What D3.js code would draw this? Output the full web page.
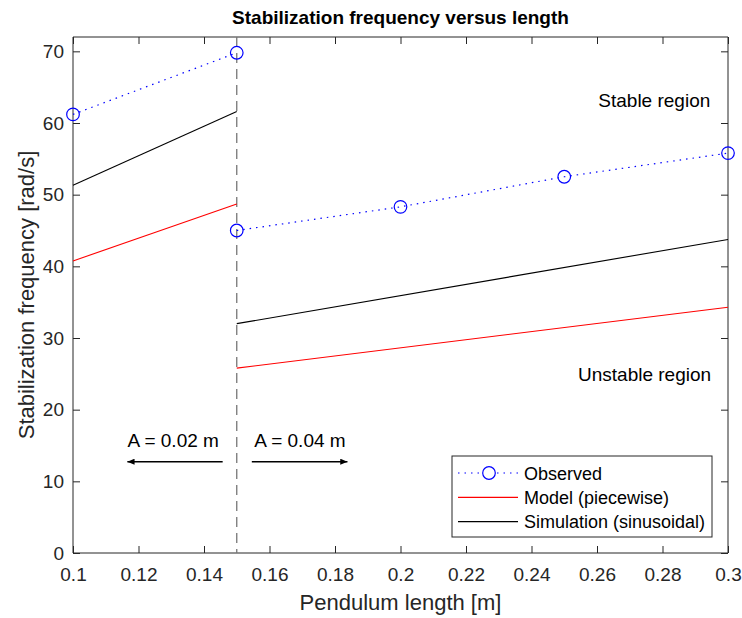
<!DOCTYPE html>
<html>
<head>
<meta charset="utf-8">
<script src="https://cdn.jsdelivr.net/npm/d3@7"></script>
<style>
  html, body { margin: 0; padding: 0; background: #fff; }
  svg { display: block; font-family: "Liberation Sans", Arial, Helvetica, sans-serif; }
</style>
</head>
<body>
<svg id="chart" width="742" height="618"></svg>
<script>
// Pendulum length [m] for each regime
const lengthsA002 = [0.10, 0.15];
const lengthsA004 = [0.15, 0.20, 0.25, 0.30];

// Observed stabilization frequency [rad/s]
const observedA002 = [61.2, 69.8];
const observedA004 = [45.0, 48.3, 52.5, 55.8];

// Model (piecewise) at segment end points
const modelLengthsA002 = [0.10, 0.15];
const modelA002 = [40.75, 48.7];
const modelLengthsA004 = [0.15, 0.30];
const modelA004 = [25.8, 34.3];

// Simulation (sinusoidal) at segment end points
const simLengthsA002 = [0.10, 0.15];
const simA002 = [51.3, 61.6];
const simLengthsA004 = [0.15, 0.30];
const simA004 = [32.0, 43.75];

// Axis ticks
const xTicks = [0.1, 0.12, 0.14, 0.16, 0.18, 0.2, 0.22, 0.24, 0.26, 0.28, 0.3];
const yTicks = [0, 10, 20, 30, 40, 50, 60, 70];
const boundaryLength = 0.15;

const svg = d3.select("#chart");
const margin = { left: 73, right: 14, top: 37, bottom: 65 };
const W = 742, H = 618;
const pw = W - margin.left - margin.right;
const ph = H - margin.top - margin.bottom;

const x = d3.scaleLinear().domain([0.1, 0.3]).range([margin.left, margin.left + pw]);
const y = d3.scaleLinear().domain([0, 72]).range([margin.top + ph, margin.top]);

const axisColor = "#262626";
const fmt = d => d3.format("~g")(d);

// Axes with inward ticks, MATLAB-style box
const tickLen = 7;
const gx = svg.append("g").attr("transform", `translate(0,${margin.top + ph})`)
  .call(d3.axisBottom(x).tickValues(xTicks).tickFormat(fmt).tickSize(-tickLen).tickPadding(15));
const gxTop = svg.append("g").attr("transform", `translate(0,${margin.top})`)
  .call(d3.axisTop(x).tickValues(xTicks).tickFormat("").tickSize(-tickLen));
const gy = svg.append("g").attr("transform", `translate(${margin.left},0)`)
  .call(d3.axisLeft(y).tickValues(yTicks).tickFormat(fmt).tickSize(-tickLen).tickPadding(9));
const gyRight = svg.append("g").attr("transform", `translate(${margin.left + pw},0)`)
  .call(d3.axisRight(y).tickValues(yTicks).tickFormat("").tickSize(-tickLen));

[gx, gxTop, gy, gyRight].forEach(g => {
  g.select(".domain").attr("stroke", axisColor).attr("stroke-width", 1);
  g.selectAll(".tick line").attr("stroke", axisColor).attr("stroke-width", 1);
  g.selectAll(".tick text").attr("fill", axisColor)
    .style("font-size", "19px").style("font-family", "Liberation Sans, Arial, sans-serif");
});
[gx, gxTop].forEach(g => g.select(".domain").attr("d", `M${margin.left},0H${margin.left + pw}`));
[gy, gyRight].forEach(g => g.select(".domain").attr("d", `M0,${margin.top + ph}V${margin.top}`));

// Regime boundary
svg.append("line")
  .attr("x1", x(boundaryLength)).attr("x2", x(boundaryLength))
  .attr("y1", y(72)).attr("y2", y(0))
  .attr("stroke", "#777").attr("stroke-width", 1.3)
  .attr("stroke-dasharray", "10,6");

const line = d3.line().x(d => x(d[0])).y(d => y(d[1]));
const zip = (a, b) => a.map((v, i) => [v, b[i]]);

// Model lines
[[modelLengthsA002, modelA002], [modelLengthsA004, modelA004]].forEach(([l, v]) => {
  svg.append("path").datum(zip(l, v)).attr("d", line)
    .attr("fill", "none").attr("stroke", "#ff0000").attr("stroke-width", 1.1);
});
// Simulation lines
[[simLengthsA002, simA002], [simLengthsA004, simA004]].forEach(([l, v]) => {
  svg.append("path").datum(zip(l, v)).attr("d", line)
    .attr("fill", "none").attr("stroke", "#000").attr("stroke-width", 1.1);
});
// Observed
[[lengthsA002, observedA002], [lengthsA004, observedA004]].forEach(([l, v]) => {
  const pts = zip(l, v);
  svg.append("path").datum(pts).attr("d", line)
    .attr("fill", "none").attr("stroke", "#0000ff").attr("stroke-width", 1.2)
    .attr("stroke-dasharray", "1.5,5");
  svg.selectAll(null).data(pts).enter().append("circle")
    .attr("cx", d => x(d[0])).attr("cy", d => y(d[1])).attr("r", 6.3)
    .attr("fill", "none").attr("stroke", "#0000ff").attr("stroke-width", 1.2);
});

// Region annotations
const annot = (tx, ty, text, anchor) => svg.append("text")
  .attr("x", tx).attr("y", ty).attr("text-anchor", anchor || "start")
  .attr("fill", "#000").style("font-size", "19px").text(text);
annot(x(0.2604), y(62.3), "Stable region");
annot(x(0.2542), y(24.0), "Unstable region");
annot(x(0.1306), y(14.8), "A = 0.02 m", "middle");
annot(x(0.1693), y(14.8), "A = 0.04 m", "middle");

// Arrows
const defs = svg.append("defs");
defs.append("marker").attr("id", "arrowhead").attr("viewBox", "0 0 12 10")
  .attr("refX", 12).attr("refY", 5).attr("markerWidth", 12).attr("markerHeight", 6)
  .attr("markerUnits", "userSpaceOnUse").attr("orient", "auto")
  .append("path").attr("d", "M0,0L12,5L0,10Z").attr("fill", "#000");
const arrow = (x1, x2, v) => svg.append("line")
  .attr("x1", x(x1)).attr("x2", x(x2)).attr("y1", y(v)).attr("y2", y(v))
  .attr("stroke", "#000").attr("stroke-width", 1.6).attr("marker-end", "url(#arrowhead)");
arrow(0.1457, 0.1166, 12.74);
arrow(0.1546, 0.1838, 12.74);

// Legend
const lg = svg.append("g");
const lgX = 452, lgY = 456, lgW = 260, lgH = 81;
lg.append("rect").attr("x", lgX).attr("y", lgY).attr("width", lgW).attr("height", lgH)
  .attr("fill", "#fff").attr("stroke", "#262626").attr("stroke-width", 1);
const items = [
  { label: "Observed", color: "#0000ff", dash: "1.5,5", marker: true },
  { label: "Model (piecewise)", color: "#ff0000", dash: null, marker: false },
  { label: "Simulation (sinusoidal)", color: "#000", dash: null, marker: false }
];
items.forEach((it, i) => {
  const cy = lgY + 17 + i * 24.3;
  lg.append("line").attr("x1", lgX + 6).attr("x2", lgX + 66).attr("y1", cy).attr("y2", cy)
    .attr("stroke", it.color).attr("stroke-width", 1.2)
    .attr("stroke-dasharray", it.dash);
  if (it.marker) {
    lg.append("circle").attr("cx", lgX + 37).attr("cy", cy).attr("r", 6.3)
      .attr("fill", "#fff").attr("stroke", it.color).attr("stroke-width", 1.2);
  }
  lg.append("text").attr("x", lgX + 72).attr("y", cy + 6.5)
    .attr("fill", "#000").style("font-size", "18px").text(it.label);
});

// Title and axis labels
svg.append("text").attr("x", margin.left + pw / 2).attr("y", 24)
  .attr("text-anchor", "middle").style("font-size", "19px").style("font-weight", "bold")
  .text("Stabilization frequency versus length");
svg.append("text").attr("x", margin.left + pw / 2).attr("y", 610)
  .attr("text-anchor", "middle").style("font-size", "22px").attr("fill", axisColor)
  .text("Pendulum length [m]");
svg.append("text").attr("transform", `translate(34,${margin.top + ph / 2}) rotate(-90)`)
  .attr("text-anchor", "middle").style("font-size", "22px").attr("fill", axisColor)
  .text("Stabilization frequency [rad/s]");
</script>
</body>
</html>
